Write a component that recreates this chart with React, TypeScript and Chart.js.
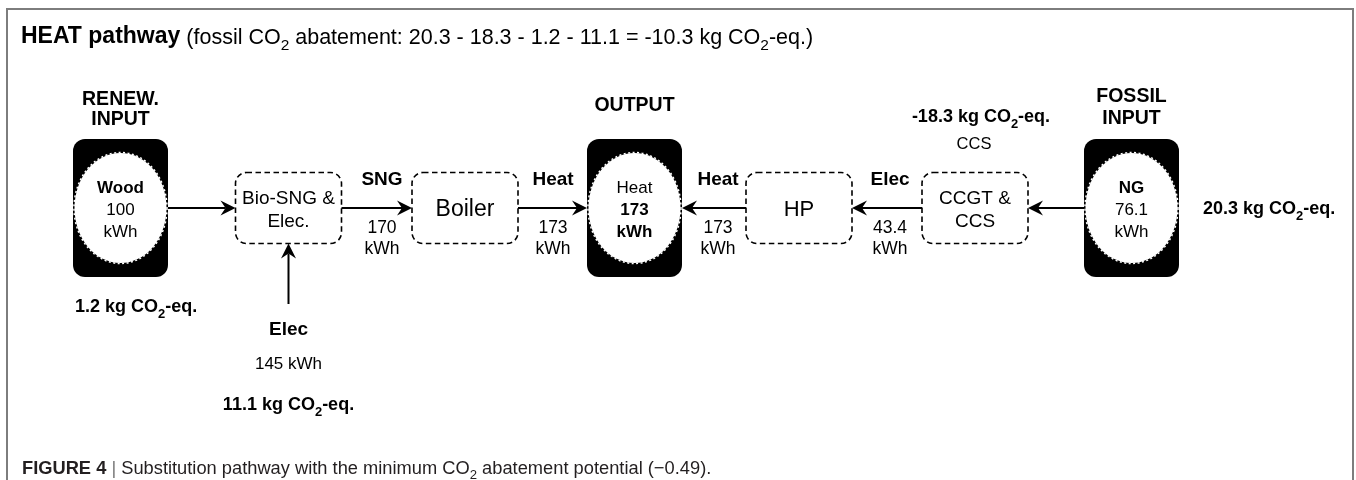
import React, { useEffect, useRef } from 'react';
import { Chart, registerables } from 'chart.js';

Chart.register(...registerables);

// ---------- data ----------
const titleBold = 'HEAT pathway';
const titleRest = ' (fossil CO{2} abatement: 20.3 - 18.3 - 1.2 - 11.1 = -10.3 kg CO{2}-eq.)';
const captionBold = 'FIGURE 4';
const captionRest = 'Substitution pathway with the minimum CO{2} abatement potential (\u22120.49).';

const terminalHeads = [['RENEW.', 'INPUT'], ['OUTPUT'], ['FOSSIL', 'INPUT']];
const terminalCarriers = ['Wood', 'Heat', 'NG'];
const terminalValues = [100, 173, 76.1];
const processLabels = [['Bio-SNG &', 'Elec.'], ['Boiler'], ['HP'], ['CCGT &', 'CCS']];
const flowCarriers = ['SNG', 'Heat', 'Heat', 'Elec'];
const flowValues = [170, 173, 173, 43.4];
const elecCarrier = 'Elec';
const elecValue = 145;
const renewEmission = 1.2;
const elecEmission = 11.1;
const ccsEmission = -18.3;
const ccsLabel = 'CCS';
const fossilEmission = 20.3;

// ---------- layout (diagram units) ----------
const L = {
  terminalX: [120.5, 634.5, 1131.5],
  terminalW: 95,
  terminalH: 138,
  rowY: 208,
  processX: [288.5, 465, 799, 975],
  processW: 106,
  processH: 71,
  processSizes: [19, 23, 22, 19],
  flowLabelX: [382, 553, 718, 890],
  headY: [[98, 118], [104], [95, 117]],
  titleY: 35,
  captionY: 467,
};

const FONT = '"Liberation Sans", Arial, Helvetica, sans-serif';

function parts(text: string) {
  const out: { t: string; sub: boolean }[] = [];
  const re = /\{([^}]*)\}/g;
  let last = 0;
  let m: RegExpExecArray | null;
  while ((m = re.exec(text))) {
    if (m.index > last) out.push({ t: text.slice(last, m.index), sub: false });
    out.push({ t: m[1], sub: true });
    last = m.index + m[0].length;
  }
  if (last < text.length) out.push({ t: text.slice(last), sub: false });
  return out;
}

function richWidth(ctx: CanvasRenderingContext2D, text: string, size: number, weight: string) {
  let w = 0;
  for (const p of parts(text)) {
    ctx.font = `${weight} ${p.sub ? size * 0.72 : size}px ${FONT}`;
    w += ctx.measureText(p.t).width;
  }
  return w;
}

function drawRich(
  ctx: CanvasRenderingContext2D,
  text: string,
  x: number,
  yCenter: number,
  size: number,
  weight: string,
  align: 'left' | 'center' | 'right',
  color = '#000'
) {
  const w = richWidth(ctx, text, size, weight);
  let cx = align === 'center' ? x - w / 2 : align === 'right' ? x - w : x;
  const base = yCenter + size * 0.36;
  ctx.fillStyle = color;
  ctx.textAlign = 'left';
  ctx.textBaseline = 'alphabetic';
  for (const p of parts(text)) {
    const s = p.sub ? size * 0.72 : size;
    ctx.font = `${weight} ${s}px ${FONT}`;
    ctx.fillText(p.t, cx, p.sub ? base + size * 0.28 : base);
    cx += ctx.measureText(p.t).width;
  }
  return w;
}

function roundRect(ctx: CanvasRenderingContext2D, x: number, y: number, w: number, h: number, r: number) {
  ctx.beginPath();
  ctx.moveTo(x + r, y);
  ctx.lineTo(x + w - r, y);
  ctx.arcTo(x + w, y, x + w, y + r, r);
  ctx.lineTo(x + w, y + h - r);
  ctx.arcTo(x + w, y + h, x + w - r, y + h, r);
  ctx.lineTo(x + r, y + h);
  ctx.arcTo(x, y + h, x, y + h - r, r);
  ctx.lineTo(x, y + r);
  ctx.arcTo(x, y, x + r, y, r);
  ctx.closePath();
}

function arrow(ctx: CanvasRenderingContext2D, x1: number, y1: number, x2: number, y2: number) {
  const ang = Math.atan2(y2 - y1, x2 - x1);
  const len = 15;
  const half = 7.5;
  const notch = 10;
  ctx.strokeStyle = '#000';
  ctx.lineWidth = 2;
  ctx.setLineDash([]);
  ctx.beginPath();
  ctx.moveTo(x1, y1);
  ctx.lineTo(x2 - Math.cos(ang) * notch, y2 - Math.sin(ang) * notch);
  ctx.stroke();
  ctx.save();
  ctx.translate(x2, y2);
  ctx.rotate(ang);
  ctx.fillStyle = '#000';
  ctx.beginPath();
  ctx.moveTo(0, 0);
  ctx.lineTo(-len, -half);
  ctx.lineTo(-notch, 0);
  ctx.lineTo(-len, half);
  ctx.closePath();
  ctx.fill();
  ctx.restore();
}

const diagramPlugin = {
  id: 'diagram',
  afterDatasetsDraw(chart: any) {
    const ctx: CanvasRenderingContext2D = chart.ctx;
    const sx = chart.scales.x;
    const sy = chart.scales.y;
    const X = (v: number) => sx.getPixelForValue(v);
    const Y = (v: number) => sy.getPixelForValue(v);
    const DX = (v: number) => X(v) - X(0);
    const DY = (v: number) => Y(v) - Y(0);
    ctx.save();

    // frame
    ctx.strokeStyle = '#7d7d7d';
    ctx.lineWidth = 2;
    ctx.beginPath();
    ctx.moveTo(X(7), Y(480));
    ctx.lineTo(X(7), Y(9));
    ctx.lineTo(X(1353), Y(9));
    ctx.lineTo(X(1353), Y(480));
    ctx.stroke();

    // title
    const tw = drawRich(ctx, titleBold, X(21), Y(L.titleY), 23, 'bold', 'left');
    drawRich(ctx, titleRest, X(21) + tw, Y(L.titleY) + 1, 21.5, 'normal', 'left');

    const rowY = Y(L.rowY);
    const tW = DX(L.terminalW);
    const tH = DY(L.terminalH);
    const pW = DX(L.processW);
    const pH = DY(L.processH);

    // terminals
    L.terminalX.forEach((cxv, i) => {
      const cx = X(cxv);
      roundRect(ctx, cx - tW / 2, rowY - tH / 2, tW, tH, 12);
      ctx.fillStyle = '#000';
      ctx.fill();
      ctx.beginPath();
      ctx.ellipse(cx, rowY, tW / 2 - 1.5, 55, 0, 0, Math.PI * 2);
      ctx.fillStyle = '#fff';
      ctx.fill();
      ctx.setLineDash([2, 2.5]);
      ctx.strokeStyle = '#fff';
      ctx.lineWidth = 1.5;
      ctx.beginPath();
      ctx.ellipse(cx, rowY, tW / 2 - 1, 55.5, 0, 0, Math.PI * 2);
      ctx.stroke();
      ctx.setLineDash([]);
      const isOut = i === 1;
      drawRich(ctx, terminalCarriers[i], cx, rowY - 21, 17, isOut ? 'normal' : 'bold', 'center');
      drawRich(ctx, String(terminalValues[i]), cx, rowY + 1, 17, isOut ? 'bold' : 'normal', 'center');
      drawRich(ctx, 'kWh', cx, rowY + 23, 17, isOut ? 'bold' : 'normal', 'center');
      terminalHeads[i].forEach((h, j) => {
        drawRich(ctx, h, cx, Y(L.headY[i][j]), 19.5, 'bold', 'center');
      });
    });

    // processes
    L.processX.forEach((cxv, i) => {
      const cx = X(cxv);
      roundRect(ctx, cx - pW / 2, rowY - pH / 2, pW, pH, 11);
      ctx.setLineDash([5.5, 3.5]);
      ctx.strokeStyle = '#000';
      ctx.lineWidth = 1.6;
      ctx.stroke();
      ctx.setLineDash([]);
      const lines = processLabels[i];
      const size = L.processSizes[i];
      if (lines.length === 1) drawRich(ctx, lines[0], cx, rowY, size, 'normal', 'center');
      else lines.forEach((t, j) => drawRich(ctx, t, cx, rowY - 11 + j * 23, size, 'normal', 'center'));
    });

    // arrows
    const tx = L.terminalX.map(X);
    const px = L.processX.map(X);
    arrow(ctx, tx[0] + tW / 2, rowY, px[0] - pW / 2, rowY);
    arrow(ctx, px[0] + pW / 2, rowY, px[1] - pW / 2, rowY);
    arrow(ctx, px[1] + pW / 2, rowY, tx[1] - tW / 2, rowY);
    arrow(ctx, px[2] - pW / 2, rowY, tx[1] + tW / 2, rowY);
    arrow(ctx, px[3] - pW / 2, rowY, px[2] + pW / 2, rowY);
    arrow(ctx, tx[2] - tW / 2, rowY, px[3] + pW / 2, rowY);
    arrow(ctx, px[0], Y(304), px[0], rowY + pH / 2);

    // flow labels
    L.flowLabelX.forEach((fx, i) => {
      const cx = X(fx);
      drawRich(ctx, flowCarriers[i], cx, Y(178), 19, 'bold', 'center');
      drawRich(ctx, String(flowValues[i]), cx, Y(227), 17.5, 'normal', 'center');
      drawRich(ctx, 'kWh', cx, Y(248), 17.5, 'normal', 'center');
    });

    // electricity input labels
    drawRich(ctx, elecCarrier, px[0], Y(328), 19, 'bold', 'center');
    drawRich(ctx, `${elecValue} kWh`, px[0], Y(363), 17, 'normal', 'center');
    drawRich(ctx, `${elecEmission} kg CO{2}-eq.`, px[0], Y(404), 18, 'bold', 'center');

    // emissions
    drawRich(ctx, `${renewEmission} kg CO{2}-eq.`, X(75), Y(306), 18, 'bold', 'left');
    drawRich(ctx, `${ccsEmission} kg CO{2}-eq.`, X(981), Y(116), 18, 'bold', 'center');
    drawRich(ctx, ccsLabel, X(974), Y(143), 16.5, 'normal', 'center');
    drawRich(ctx, `${fossilEmission} kg CO{2}-eq.`, X(1203), rowY, 18, 'bold', 'left');

    // caption
    const cw = drawRich(ctx, captionBold, X(22), Y(L.captionY), 18.3, 'bold', 'left', '#231f20');
    const bw = drawRich(ctx, ' | ', X(22) + cw, Y(L.captionY), 18.3, 'normal', 'left', '#777');
    drawRich(ctx, captionRest, X(22) + cw + bw, Y(L.captionY), 18.3, 'normal', 'left', '#231f20');

    ctx.restore();
  },
};

export default function App() {
  const ref = useRef<HTMLCanvasElement | null>(null);
  useEffect(() => {
    document.body.style.margin = '0';
    const canvas = ref.current!;
    const nodePoints = [
      ...L.terminalX.map((x, i) => ({ x, y: L.rowY, label: terminalCarriers[i] })),
      ...L.processX.map((x, i) => ({ x, y: L.rowY, label: processLabels[i].join(' ') })),
    ];
    const chart = new Chart(canvas, {
      type: 'scatter',
      data: {
        datasets: [
          {
            label: 'nodes',
            data: nodePoints as any,
            pointRadius: 0,
            pointHoverRadius: 0,
          },
        ],
      },
      options: {
        animation: false,
        responsive: false,
        devicePixelRatio: 1,
        layout: { padding: 0 },
        events: [],
        plugins: { legend: { display: false }, tooltip: { enabled: false }, title: { display: false } },
        scales: {
          x: { type: 'linear', min: 0, max: 1356, display: false },
          y: { type: 'linear', min: 0, max: 480, reverse: true, display: false },
        },
      },
      plugins: [diagramPlugin],
    });
    return () => chart.destroy();
  }, []);
  return (
    <div style={{ width: 1356, height: 480, background: '#fff' }}>
      <canvas ref={ref} width={1356} height={480} style={{ display: 'block', width: 1356, height: 480 }} />
    </div>
  );
}
